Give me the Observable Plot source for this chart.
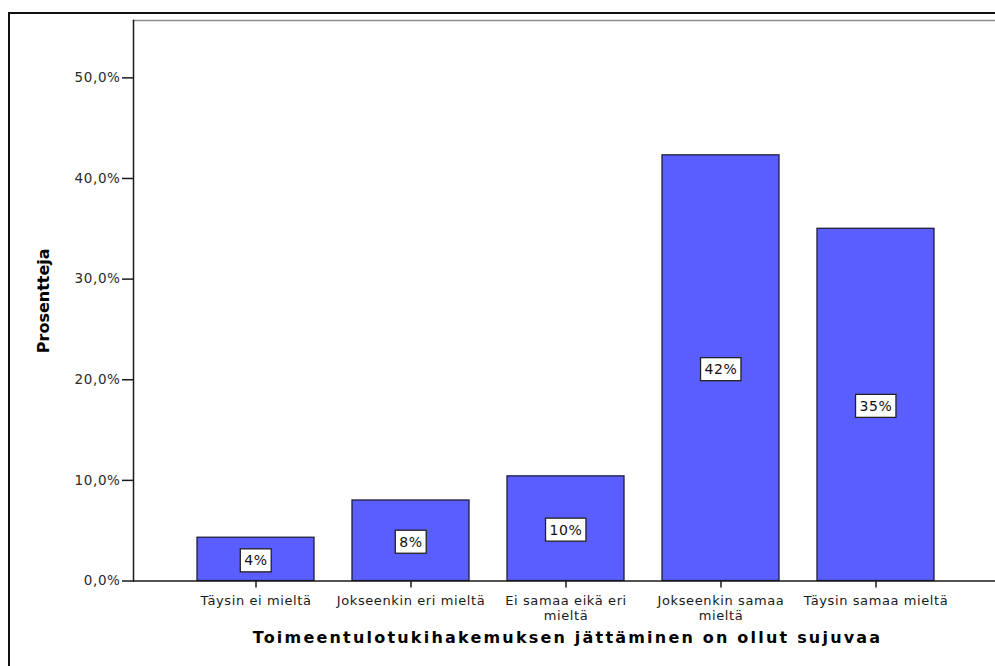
<!DOCTYPE html>
<html>
<head>
<meta charset="utf-8">
<script src="https://cdn.jsdelivr.net/npm/d3@7"></script>
<script src="https://cdn.jsdelivr.net/npm/@observablehq/plot@0.6"></script>
<style>
  html, body { margin: 0; padding: 0; background: #fff; }
  #stage { position: relative; width: 995px; height: 666px; overflow: hidden; }
  #border { position: absolute; left: 8px; top: 12px; width: 1100px; height: 800px; border: 2px solid #111; }
  #chart { position: absolute; left: 0; top: 0; }
  #chart svg text { letter-spacing: 0.6px; }
</style>
</head>
<body>
<div id="stage">
  <div id="border"></div>
  <div id="chart"></div>
</div>
<script>
// Answer categories along the x axis
const categories = [
  "Täysin ei mieltä",
  "Jokseenkin eri mieltä",
  "Ei samaa eikä eri mieltä",
  "Jokseenkin samaa mieltä",
  "Täysin samaa mieltä"
];
// Share of respondents per category (%)
const percents = [4.3, 8.0, 10.4, 42.3, 35.0];
// Tick labels as printed under each bar (with line breaks)
const tickLabels = [
  "Täysin ei mieltä",
  "Jokseenkin eri mieltä",
  "Ei samaa eikä eri\nmieltä",
  "Jokseenkin samaa\nmieltä",
  "Täysin samaa mieltä"
];
// Y axis ticks (%)
const yTicks = [0, 10, 20, 30, 40, 50];
const xTitle = "Toimeentulotukihakemuksen jättäminen on ollut sujuvaa";
const yTitle = "Prosentteja";

const data = categories.map((c, i) => ({
  category: c,
  pct: percents[i],
  label: Math.round(percents[i]) + "%"
}));

const chart = Plot.plot({
  width: 995,
  height: 666,
  marginLeft: 133,
  marginRight: 0,
  marginTop: 20,
  marginBottom: 85.5,
  style: {
    fontFamily: "'DejaVu Sans', sans-serif",
    fontSize: "13px",
    color: "#222",
    background: "transparent",
    overflow: "visible"
  },
  x: {
    domain: categories,
    range: [133, 998],
    paddingInner: 0.248,
    paddingOuter: 0.405,
    align: 0.5,
    axis: null
  },
  y: { domain: [0, 55.7], axis: null },
  marks: [
    Plot.frame({ anchor: "top", stroke: "#8c8c8c", strokeWidth: 1.5 }),
    Plot.barY(data, {
      x: "category",
      y: "pct",
      fill: "#5b5eff",
      stroke: "#1e1e3c",
      strokeWidth: 1.3
    }),
    Plot.ruleY([0], { stroke: "#1a1a1a", strokeWidth: 1.5 }),
    Plot.frame({ anchor: "left", stroke: "#1a1a1a", strokeWidth: 1.5 }),
    Plot.axisY({
      ticks: yTicks,
      tickFormat: d => d.toFixed(1).replace(".", ",") + "%",
      tickSize: 11,
      tickPadding: 2,
      label: null,
      fontSize: 13.5,
      stroke: "#1a1a1a",
      strokeWidth: 1.5,
      strokeOpacity: 1,
      fill: "#2a2a2a"
    }),
    Plot.axisX({
      tickSize: 7,
      tickPadding: 6,
      tickFormat: c => tickLabels[categories.indexOf(c)],
      label: null,
      lineHeight: 1.17,
      fontSize: 13,
      stroke: "#1a1a1a",
      strokeWidth: 1.5,
      strokeOpacity: 1,
      fill: "#1a1a1a"
    }),
    Plot.text(data, {
      x: "category",
      y: d => d.pct / 2,
      text: "label",
      fontSize: 14,
      fill: "#111",
      dy: 1.5
    }),
    Plot.text([yTitle], {
      text: d => d,
      frameAnchor: "left",
      textAnchor: "middle",
      dx: -90,
      rotate: -90,
      fontWeight: "bold",
      fontSize: 16,
      fill: "#000"
    }),
    Plot.text([xTitle], {
      text: d => d,
      frameAnchor: "bottom",
      textAnchor: "middle",
      dy: 62,
      dx: 3,
      fontWeight: "bold",
      fontSize: 16,
      fill: "#000"
    })
  ]
});

document.getElementById("chart").appendChild(chart);

// Boxed value labels: a white rectangle with a dark outline behind each percentage
const svgNS = "http://www.w3.org/2000/svg";
chart.querySelectorAll("text").forEach(t => {
  const s = t.textContent;
  if (s === xTitle) t.style.letterSpacing = "2.2px";
  if (s === yTitle) t.style.letterSpacing = "0px";
  if (/^\d+%$/.test(s)) {
    const b = t.getBBox();
    const r = document.createElementNS(svgNS, "rect");
    r.setAttribute("x", b.x - 4);
    r.setAttribute("y", b.y - 3.5);
    r.setAttribute("width", b.width + 7.5);
    r.setAttribute("height", b.height + 7);
    r.setAttribute("fill", "#fff");
    r.setAttribute("stroke", "#222");
    r.setAttribute("stroke-width", "1.3");
    const tr = t.getAttribute("transform");
    if (tr) r.setAttribute("transform", tr);
    t.parentNode.insertBefore(r, t);
  }
});
</script>
</body>
</html>
